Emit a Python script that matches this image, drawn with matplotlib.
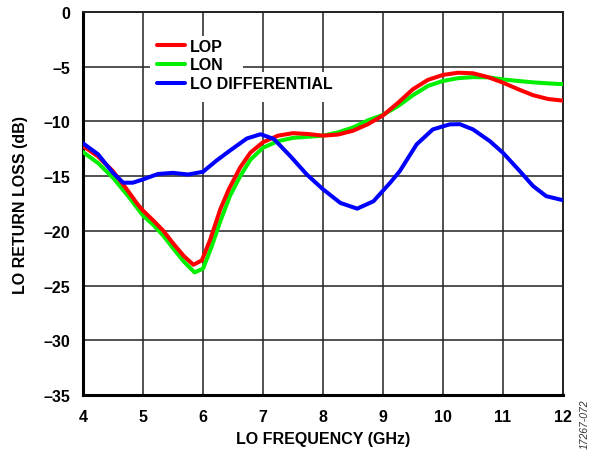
import matplotlib
matplotlib.use("Agg")
import matplotlib.pyplot as plt
from matplotlib.patches import Rectangle

# ---- data ----
freq_lop = [4.0, 4.25, 4.5, 4.75, 4.9, 5.0, 5.18, 5.34, 5.51, 5.68, 5.84, 5.98, 6.12, 6.29,
            6.43, 6.62, 6.79, 7.0, 7.25, 7.5, 7.75, 8.0, 8.25, 8.5, 8.75, 9.0, 9.25, 9.5,
            9.75, 10.0, 10.25, 10.5, 10.75, 11.0, 11.25, 11.5, 11.75, 12.0]
lop = [-12.25, -13.2, -14.55, -16.35, -17.5, -18.15, -19.1, -20.0, -21.2, -22.3, -23.1,
       -22.7, -20.8, -18.0, -16.2, -14.2, -12.85, -11.9, -11.3, -11.07, -11.15, -11.3,
       -11.2, -10.85, -10.25, -9.45, -8.3, -7.05, -6.2, -5.75, -5.55, -5.6, -5.95, -6.46,
       -7.05, -7.6, -7.95, -8.1]

freq_lon = [4.0, 4.25, 4.5, 4.75, 5.0, 5.18, 5.34, 5.51, 5.68, 5.86, 6.0, 6.14, 6.29, 6.45,
            6.62, 6.79, 7.0, 7.25, 7.5, 7.75, 8.0, 8.25, 8.5, 8.75, 9.0, 9.25, 9.5, 9.75,
            10.0, 10.25, 10.5, 10.75, 11.0, 11.25, 11.5, 11.75, 12.0]
lon = [-12.8, -13.8, -15.15, -16.8, -18.6, -19.5, -20.45, -21.65, -22.8, -23.8, -23.45,
       -21.5, -19.1, -16.8, -15.0, -13.5, -12.4, -11.8, -11.5, -11.4, -11.3, -11.0, -10.55,
       -9.9, -9.4, -8.6, -7.6, -6.75, -6.3, -6.05, -5.95, -5.97, -6.16, -6.3, -6.43,
       -6.52, -6.6]

freq_diff = [4.0, 4.25, 4.5, 4.67, 4.83, 5.0, 5.25, 5.5, 5.75, 6.0, 6.22, 6.44, 6.73, 6.96,
             7.18, 7.46, 7.73, 8.0, 8.29, 8.57, 8.84, 9.12, 9.28, 9.56, 9.83, 10.11, 10.28,
             10.5, 10.78, 11.0, 11.28, 11.5, 11.72, 12.0]
lo_diff = [-12.0, -13.0, -14.7, -15.6, -15.6, -15.3, -14.8, -14.7, -14.85, -14.6, -13.6,
           -12.7, -11.56, -11.17, -11.6, -13.2, -14.85, -16.2, -17.45, -17.97, -17.3, -15.6,
           -14.54, -12.1, -10.73, -10.27, -10.25, -10.73, -11.8, -12.87, -14.54, -15.9,
           -16.83, -17.2]

x_ticks = [4, 5, 6, 7, 8, 9, 10, 11, 12]
y_ticks = [0, -5, -10, -15, -20, -25, -30, -35]
series_names = ["LOP", "LON", "LO DIFFERENTIAL"]

plt.rcParams['font.family'] = ['Liberation Sans', 'DejaVu Sans']

FS = 11.5

fig = plt.figure(figsize=(5.92, 4.52), dpi=100)
ax = fig.add_axes([83 / 592, 1 - 396 / 452, 480 / 592, 383 / 452])

ax.plot(freq_lop, lop, color="#ff0000", lw=2.9, label=series_names[0], zorder=4,
        solid_joinstyle="round", solid_capstyle="round")
ax.plot(freq_lon, lon, color="#00f000", lw=2.9, label=series_names[1], zorder=3,
        solid_joinstyle="round", solid_capstyle="round")
ax.plot(freq_diff, lo_diff, color="#0000ff", lw=2.9, label=series_names[2], zorder=5,
        solid_joinstyle="round", solid_capstyle="round")

ax.set_xlim(4, 12)
ax.set_ylim(-35, 0)
ax.set_xticks(x_ticks)
ax.set_yticks(y_ticks)
ax.set_yticklabels(["0" if v == 0 else "\u2013" + str(-v) for v in y_ticks])
ax.grid(True, color="#222222", lw=1.1)
ax.set_axisbelow(True)
ax.tick_params(length=0, labelsize=FS, pad=9)
ax.tick_params(axis="x", pad=10)
for lab in ax.get_xticklabels() + ax.get_yticklabels():
    lab.set_fontweight("bold")

for s in ["left", "bottom"]:
    ax.spines[s].set_linewidth(2.2)
    ax.spines[s].set_color("black")
for s in ["top", "right"]:
    ax.spines[s].set_linewidth(1.4)
    ax.spines[s].set_color("#222222")

# white boxes behind legend text (grid is interrupted there)
ax.add_patch(Rectangle((5.117, -5.85), 1.55, 3.66, facecolor="white", edgecolor="none",
                       zorder=1.5))
ax.add_patch(Rectangle((5.117, -8.22), 3.17, 2.74, facecolor="white", edgecolor="none",
                       zorder=1.5))

leg = ax.legend(loc="upper left",
                bbox_to_anchor=((157 - 83) / 480, 1 - (39.5 - 13) / 383),
                frameon=False, borderpad=0, borderaxespad=0, handlelength=1.75,
                handletextpad=0.3, labelspacing=0.25,
                prop={"weight": "bold", "size": FS})

ax.set_xlabel("LO FREQUENCY (GHz)", fontsize=FS, fontweight="bold", labelpad=5)
ax.set_ylabel("LO RETURN LOSS (dB)", fontsize=FS, fontweight="bold", labelpad=11)

fig.text(585 / 592, 1 - 424 / 452, "17267-072", rotation=90, fontsize=7.5,
         style="italic", color="#333333", ha="center", va="center")

fig.savefig("out.png", dpi=100)
